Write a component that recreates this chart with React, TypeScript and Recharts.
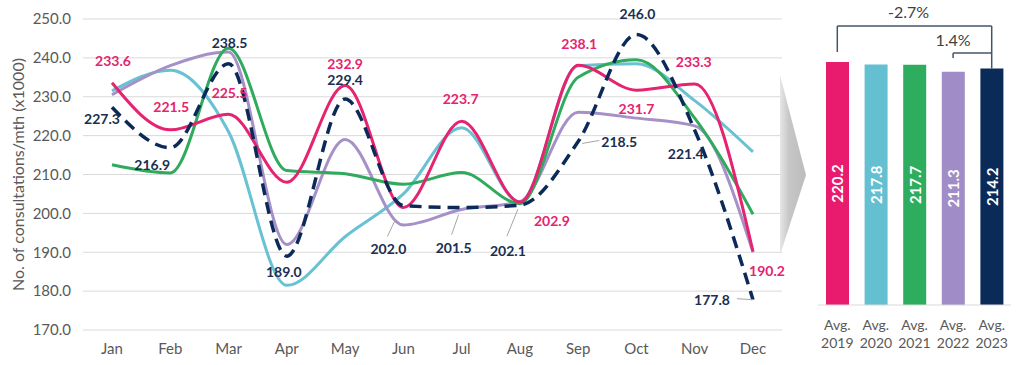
import React from "react";
import {
  LineChart,
  Line,
  XAxis,
  YAxis,
  CartesianGrid,
  LabelList,
  BarChart,
  Bar,
  Cell,
  ReferenceLine,
  Label,
} from "recharts";

const months = ["Jan", "Feb", "Mar", "Apr", "May", "Jun", "Jul", "Aug", "Sep", "Oct", "Nov", "Dec"];
const cons2019 = [233.6, 221.5, 225.5, 208.0, 232.9, 201.5, 223.7, 202.9, 238.1, 231.7, 233.3, 190.2];
const cons2020 = [231.5, 236.8, 221.0, 181.5, 194.0, 205.0, 222.0, 203.0, 238.0, 238.5, 229.0, 215.8];
const cons2021 = [212.5, 210.4, 242.5, 211.0, 210.2, 207.5, 210.5, 202.5, 235.0, 239.5, 224.5, 199.8];
const cons2022 = [230.5, 238.0, 241.5, 192.0, 219.0, 197.0, 201.0, 203.0, 226.0, 224.5, 222.5, 190.0];
const cons2023 = [227.3, 216.9, 238.5, 189.0, 229.4, 202.0, 201.5, 202.1, 218.5, 246.0, 221.4, 177.8];
const yTicks = [170, 180, 190, 200, 210, 220, 230, 240, 250];

const avgNames = ["Avg. 2019", "Avg. 2020", "Avg. 2021", "Avg. 2022", "Avg. 2023"];
const avgValues = [220.2, 217.8, 217.7, 211.3, 214.2];

const PINK = "#e6236f";
const CYAN = "#68c2d3";
const GREEN = "#30aa5c";
const LAVENDER = "#a591c8";
const NAVY = "#0c2a59";
const BAR_COLORS = ["#e81b6e", "#64bfd0", "#2ead5e", "#a08cc6", "#0a2a58"];
const GREY = "#595959";
const FONT = "Lato, 'Open Sans', sans-serif";

const lineData = months.map((m, i) => ({
  month: m,
  y2019: cons2019[i],
  y2020: cons2020[i],
  y2021: cons2021[i],
  y2022: cons2022[i],
  y2023: cons2023[i],
}));

const barData = avgNames.map((n, i) => ({ name: n, avg: avgValues[i] }));

type Off = { dx: number; dy: number; leader?: [number, number, number, number] };

// label placement relative to the point
const pinkOffsets: Record<number, Off> = {
  0: { dx: 1, dy: -22 },
  1: { dx: 1, dy: -23 },
  2: { dx: 1, dy: -22 },
  4: { dx: 0, dy: -22 },
  6: { dx: -1, dy: -23 },
  7: { dx: 32, dy: 18 },
  8: { dx: 1, dy: -22 },
  9: { dx: 0, dy: 18 },
  10: { dx: -1, dy: -22 },
  11: { dx: 14, dy: 19 },
};

const navyOffsets: Record<number, Off> = {
  0: { dx: -10, dy: 11 },
  1: { dx: -18, dy: 17 },
  2: { dx: 1, dy: -21 },
  3: { dx: -3, dy: 15 },
  4: { dx: 0, dy: -20 },
  5: { dx: -15, dy: 43, leader: [-16, 31, -8, 14] },
  6: { dx: -8, dy: 40, leader: [-10, 27, -3, 7] },
  7: { dx: -12, dy: 45, leader: [-13, 31, -2, 4] },
  8: { dx: 41, dy: 0, leader: [4, 2, 21, -1] },
  9: { dx: 1, dy: -21 },
  10: { dx: -9, dy: 23 },
  11: { dx: -41, dy: 0, leader: [-16, -1, 0, 0] },
};

const makeLabel = (color: string, offsets: Record<number, Off>) => (props: any) => {
  const o = offsets[props.index];
  if (!o) return null;
  const vb = props.viewBox || {};
  const x = props.x ?? vb.x;
  const y = props.y ?? vb.y;
  return (
    <g>
      {o.leader && (
        <line
          x1={x + o.leader[0]}
          y1={y + o.leader[1]}
          x2={x + o.leader[2]}
          y2={y + o.leader[3]}
          stroke="#a6a6a6"
          strokeWidth={1}
        />
      )}
      <text
        x={x + o.dx}
        y={y + o.dy}
        textAnchor="middle"
        dominantBaseline="central"
        fill={color}
        fontSize={14}
        fontWeight={700}
        fontFamily={FONT}
      >
        {Number(props.value).toFixed(1)}
      </text>
    </g>
  );
};

const YTitle = (props: any) => {
  const vb = props.viewBox || {};
  const cy = (vb.y ?? 19) + (vb.height ?? 311) / 2;
  return (
    <text
      x={17}
      y={cy}
      transform={`rotate(-90, 17, ${cy})`}
      textAnchor="middle"
      dominantBaseline="central"
      fill={GREY}
      fontSize={16}
      fontFamily={FONT}
    >
      No. of consultations/mth (x1000)
    </text>
  );
};

const AvgTick = (props: any) => {
  const { x, y, payload } = props;
  const [a, b] = String(payload.value).split(" ");
  return (
    <g>
      <text x={x} y={y + 19} textAnchor="middle" dominantBaseline="central" fill={GREY} fontSize={14} fontFamily={FONT}>
        {a}
      </text>
      <text x={x} y={y + 37} textAnchor="middle" dominantBaseline="central" fill={GREY} fontSize={14} fontFamily={FONT}>
        {b}
      </text>
    </g>
  );
};

const BarValue = (props: any) => {
  const vb = props.viewBox || props;
  const cx = vb.x + vb.width / 2;
  const cy = vb.y + vb.height / 2;
  return (
    <text
      x={cx}
      y={cy}
      transform={`rotate(-90, ${cx}, ${cy})`}
      textAnchor="middle"
      dominantBaseline="central"
      fill="#ffffff"
      fontSize={15}
      fontWeight={700}
      fontFamily={FONT}
    >
      {Number(props.value).toFixed(1)}
    </text>
  );
};

const BRACKET = "#44546a";

export default function App() {
  return (
    <div style={{ position: "absolute", left: 0, top: 0, width: 1024, height: 365, background: "#fff" }}>
      <div style={{ position: "absolute", left: 0, top: 0 }}>
        <LineChart width={800} height={365} data={lineData} margin={{ top: 19, right: 18, left: 0, bottom: 0 }}>
          <CartesianGrid vertical={false} stroke="#d9d9d9" />
          <XAxis
            dataKey="month"
            height={35}
            padding={{ left: 29, right: 29 }}
            axisLine={false}
            tickLine={false}
            tickSize={0}
            tickMargin={13}
            tick={{ fill: GREY, fontSize: 15, fontFamily: FONT }}
          />
          <YAxis
            width={83}
            domain={[170, 250]}
            ticks={yTicks}
            axisLine={false}
            tickLine={false}
            tickSize={0}
            tickMargin={12}
            tickFormatter={(v: number) => v.toFixed(1)}
            tick={{ fill: GREY, fontSize: 15, fontFamily: FONT }}
          >
            <Label content={<YTitle />} />
          </YAxis>
          <Line type="monotone" dataKey="y2020" stroke={CYAN} strokeWidth={3} dot={false} activeDot={false} isAnimationActive={false} />
          <Line type="monotone" dataKey="y2022" stroke={LAVENDER} strokeWidth={3} dot={false} activeDot={false} isAnimationActive={false} />
          <Line type="monotone" dataKey="y2021" stroke={GREEN} strokeWidth={3} dot={false} activeDot={false} isAnimationActive={false} />
          <Line type="monotone" dataKey="y2019" stroke={PINK} strokeWidth={3} dot={false} activeDot={false} isAnimationActive={false}>
            <LabelList dataKey="y2019" content={makeLabel(PINK, pinkOffsets)} />
          </Line>
          <Line
            type="monotone"
            dataKey="y2023"
            stroke={NAVY}
            strokeWidth={3.5}
            strokeDasharray="12 7"
            dot={false}
            activeDot={false}
            isAnimationActive={false}
          >
            <LabelList dataKey="y2023" content={makeLabel("#1b2e50", navyOffsets)} />
          </Line>
        </LineChart>
      </div>

      <svg style={{ position: "absolute", left: 0, top: 0 }} width={1024} height={365}>
        <defs>
          <linearGradient id="arrowGrad" x1="0" x2="1" y1="0" y2="0">
            <stop offset="0" stopColor="#e6e6e6" />
            <stop offset="0.35" stopColor="#c6c6c6" />
            <stop offset="1" stopColor="#bcbcbc" />
          </linearGradient>
        </defs>
        <polygon points="780,75 806,175 780,255" fill="url(#arrowGrad)" />
      </svg>

      <div style={{ position: "absolute", left: 800, top: 0 }}>
        <BarChart width={224} height={365} data={barData} margin={{ top: 7, right: 13, left: 18, bottom: 0 }}>
          <XAxis
            dataKey="name"
            height={60}
            axisLine={{ stroke: "#d9d9d9" }}
            tickLine={false}
            tickSize={0}
            tickMargin={0}
            interval={0}
            tick={<AvgTick />}
          />
          <YAxis hide domain={[0, 270]} />
          <Bar dataKey="avg" barSize={23} isAnimationActive={false}>
            {barData.map((d, i) => (
              <Cell key={d.name} fill={BAR_COLORS[i]} />
            ))}
            <LabelList dataKey="avg" content={<BarValue />} />
          </Bar>
          <ReferenceLine
            segment={[{ x: avgNames[0], y: 229.2 }, { x: avgNames[0], y: 252.8 }]}
            stroke={BRACKET}
            strokeWidth={1.5}
            ifOverflow="visible"
          />
          <ReferenceLine
            segment={[{ x: avgNames[0], y: 252.8 }, { x: avgNames[4], y: 252.8 }]}
            stroke={BRACKET}
            strokeWidth={1.5}
            ifOverflow="visible"
          >
            <Label value="-2.7%" position="top" offset={8} dx={-6} fill="#404040" fontSize={16} fontFamily={FONT} />
          </ReferenceLine>
          <ReferenceLine
            segment={[{ x: avgNames[4], y: 252.8 }, { x: avgNames[4], y: avgValues[4] }]}
            stroke={BRACKET}
            strokeWidth={1.5}
            ifOverflow="visible"
          />
          <ReferenceLine
            segment={[{ x: avgNames[3], y: 223.8 }, { x: avgNames[3], y: 228.3 }]}
            stroke={BRACKET}
            strokeWidth={1.5}
            ifOverflow="visible"
          >
            <Label value="1.4%" position="top" offset={7} fill="#404040" fontSize={16} fontFamily={FONT} />
          </ReferenceLine>
          <ReferenceLine
            segment={[{ x: avgNames[3], y: 228.3 }, { x: avgNames[4], y: 228.3 }]}
            stroke={BRACKET}
            strokeWidth={1.5}
            ifOverflow="visible"
          />
        </BarChart>
      </div>
    </div>
  );
}
